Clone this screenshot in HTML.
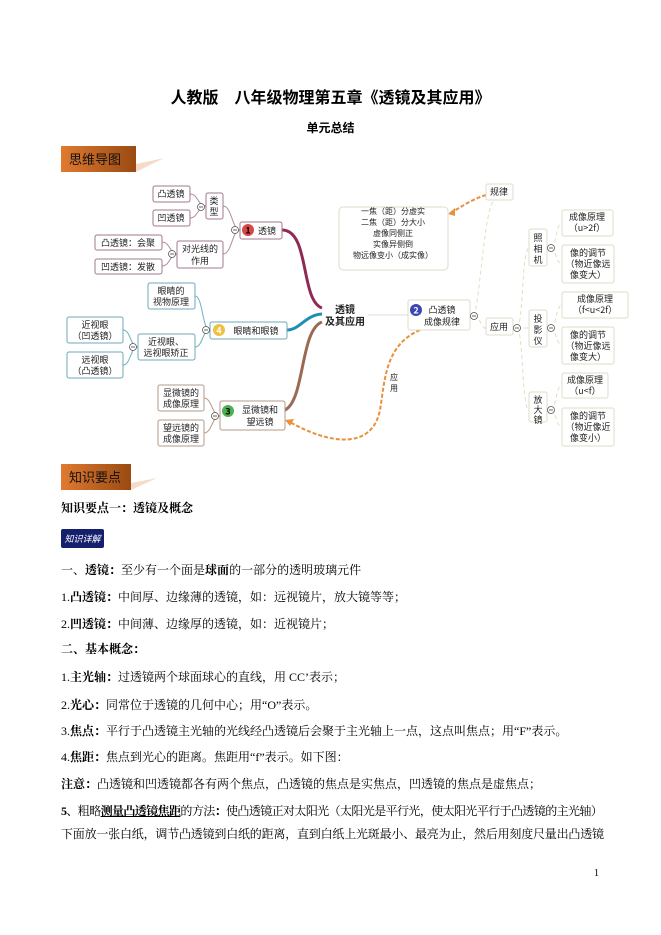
<!DOCTYPE html>
<html><head><meta charset="utf-8"><style>
body{margin:0;background:#fff;}
#p{position:relative;width:661px;height:935px;overflow:hidden;font-family:"Liberation Serif","Noto Serif CJK SC","Noto Sans CJK SC",serif;color:#000;}
.t{position:absolute;white-space:nowrap;font-size:12px;line-height:16px;}
.hdr{position:absolute;background:linear-gradient(90deg,#e07a30,#9a4a12);font-family:"Noto Sans CJK SC",sans-serif;font-size:13px;color:#111;}
svg text{font-family:"Noto Sans CJK SC",sans-serif;}
</style></head><body><div id="p">
<div class="t" style="left:0;width:661px;text-align:center;top:88px;font-size:16px;font-weight:bold;font-family:'Noto Sans CJK SC',sans-serif;">人教版　八年级物理第五章《透镜及其应用》</div>
<div class="t" style="left:0;width:661px;text-align:center;top:120px;font-size:12px;font-weight:bold;font-family:'Noto Sans CJK SC',sans-serif;">单元总结</div>

<div class="hdr" style="left:61px;top:146px;width:75px;height:26px;line-height:26px;text-indent:8px;">思维导图</div>
<svg style="position:absolute;left:136px;top:158px" width="30" height="14"><polygon points="0,14 0,6 28,0" fill="#f6dcc8"/></svg>
<div class="hdr" style="left:61px;top:464px;width:70px;height:26px;line-height:26px;text-indent:8px;">知识要点</div>
<svg style="position:absolute;left:131px;top:478px" width="30" height="12"><polygon points="0,12 0,5 26,0" fill="#f6dcc8"/></svg>

<svg style="position:absolute;left:0;top:0" width="661" height="470" font-size="9">
<g fill="none" stroke-width="1">
<path d="M190,194 C198,194 198,206 206,206 M190,218 C198,218 198,206 206,206" stroke="#b78aa3"/>
<path d="M223,206 C232,206 232,230 240,230 M223,254 C232,254 232,230 240,230" stroke="#b78aa3"/>
<path d="M162,242 C170,242 170,254 177,254 M162,266 C170,266 170,254 177,254" stroke="#b78aa3"/>
<path d="M282,230 C310,230 300,300 322,308" stroke="#8e2a55" stroke-width="3"/>
<path d="M195,296 C203,296 202,330 210,330 M195,347 C203,347 202,330 210,330" stroke="#6fb0c0"/>
<path d="M123,330 C131,330 130,347 138,347 M123,365 C131,365 130,347 138,347" stroke="#6fb0c0"/>
<path d="M287,330 C300,330 305,315 322,314" stroke="#1e8fb3" stroke-width="3"/>
<path d="M204,398 C212,398 212,416 220,416 M204,433 C212,433 212,416 220,416" stroke="#b39a88"/>
<path d="M285,410 C305,400 300,330 322,322" stroke="#9a6a55" stroke-width="3"/>
<path d="M368,315 L408,315" stroke="#ddd"/>
<path d="M474,316 C480,316 482,330 486,328 M474,316 C480,300 484,210 494,200" stroke="#e6dcc0" stroke-dasharray="4,3"/>
<path d="M517,328 C523,328 522,248 529,248 M517,328 L529,328 M517,328 C523,328 522,410 529,410" stroke="#e6dcc0" stroke-dasharray="4,3"/>
<path d="M551,248 C556,248 556,223 562,223 M551,248 C556,248 556,264 562,264 M551,328 C556,328 556,305 562,305 M551,328 C556,328 556,345 562,345 M551,410 C556,410 556,385 562,385 M551,410 C556,410 556,427 562,427" stroke="#e6dcc0" stroke-dasharray="4,3"/>
<path d="M486,195 C470,200 460,208 450,213" stroke="#e8903a" stroke-width="2" stroke-dasharray="4,2"/>
<path d="M420,330 C385,345 385,380 380,410 C372,450 330,445 288,421" stroke="#e8903a" stroke-width="2" stroke-dasharray="4,2"/>
</g>
<polygon points="448,214 455,208 455,216" fill="#e8903a"/>
<polygon points="285,420 294,419 290,426" fill="#e8903a"/>
<g fill="#fff" stroke-width="1">
<rect x="153" y="186" width="37" height="16" rx="2" stroke="#a07890"/>
<rect x="153" y="210" width="37" height="16" rx="2" stroke="#a07890"/>
<rect x="206" y="193" width="17" height="26" rx="2" stroke="#a07890"/>
<rect x="240" y="222" width="42" height="17" rx="2" stroke="#a07890"/>
<rect x="95" y="235" width="67" height="15" rx="2" stroke="#a07890"/>
<rect x="95" y="259" width="67" height="15" rx="2" stroke="#a07890"/>
<rect x="177" y="241" width="46" height="27" rx="2" stroke="#a07890"/>
<rect x="148" y="283" width="47" height="26" rx="2" stroke="#6fa8b8"/>
<rect x="210" y="322" width="77" height="17" rx="2" stroke="#6fa8b8"/>
<rect x="67" y="317" width="56" height="26" rx="2" stroke="#6fa8b8"/>
<rect x="67" y="352" width="56" height="26" rx="2" stroke="#6fa8b8"/>
<rect x="138" y="334" width="57" height="26" rx="2" stroke="#6fa8b8"/>
<rect x="158" y="385" width="46" height="26" rx="2" stroke="#b39a88"/>
<rect x="158" y="420" width="46" height="26" rx="2" stroke="#b39a88"/>
<rect x="220" y="401" width="65" height="29" rx="2" stroke="#b39a88"/>
<rect x="486" y="184" width="27" height="16" rx="2" stroke="#e0dcc8"/>
<rect x="339" y="207" width="109" height="63" rx="4" stroke="#e0dcc8"/>
<rect x="408" y="300" width="62" height="30" rx="2" stroke="#e0dcc8"/>
<rect x="486" y="318" width="27" height="17" rx="2" stroke="#e0dcc8"/>
<rect x="529" y="229" width="18" height="37" rx="2" stroke="#e0dcc8"/>
<rect x="529" y="310" width="18" height="37" rx="2" stroke="#e0dcc8"/>
<rect x="529" y="392" width="18" height="30" rx="2" stroke="#e0dcc8"/>
<rect x="562" y="210" width="51" height="26" rx="2" stroke="#e0dcc8"/>
<rect x="562" y="245" width="52" height="38" rx="2" stroke="#e0dcc8"/>
<rect x="562" y="292" width="66" height="26" rx="2" stroke="#e0dcc8"/>
<rect x="562" y="327" width="52" height="37" rx="2" stroke="#e0dcc8"/>
<rect x="562" y="373" width="46" height="25" rx="2" stroke="#e0dcc8"/>
<rect x="562" y="408" width="52" height="38" rx="2" stroke="#e0dcc8"/>
</g>
<g fill="#fff" stroke="#555" stroke-width="0.8">
<circle cx="201" cy="207" r="3.5"/><circle cx="235" cy="230" r="3.5"/><circle cx="172" cy="254" r="3.5"/>
<circle cx="206" cy="330" r="3.5"/><circle cx="133" cy="347" r="3.5"/><circle cx="215" cy="416" r="3.5"/>
<circle cx="474" cy="316" r="3.5"/><circle cx="517" cy="328" r="3.5"/>
<circle cx="551" cy="248" r="3.5"/><circle cx="551" cy="328" r="3.5"/><circle cx="551" cy="410" r="3.5"/>
</g>
<g stroke="#333" stroke-width="0.8">
<path d="M199,207h4M233,230h4M170,254h4M204,330h4M131,347h4M213,416h4M472,316h4M515,328h4M549,248h4M549,328h4M549,410h4"/>
</g>
<circle cx="248" cy="230" r="6" fill="#d84848"/><text x="248" y="233.5" font-size="9" font-weight="bold" text-anchor="middle">1</text>
<circle cx="219" cy="330" r="6" fill="#f0c040"/><text x="219" y="333.5" font-size="9" font-weight="bold" text-anchor="middle" fill="#fff">4</text>
<circle cx="228" cy="411" r="6" fill="#50b050"/><text x="228" y="414.5" font-size="9" font-weight="bold" text-anchor="middle">3</text>
<circle cx="416" cy="310" r="6" fill="#3a48b0"/><text x="416" y="313.5" font-size="9" font-weight="bold" text-anchor="middle" fill="#fff">2</text>
<g fill="#222" text-anchor="middle">
<text x="171" y="197">凸透镜</text><text x="171" y="221">凹透镜</text>
<text x="214" y="204">类</text><text x="214" y="215">型</text>
<text x="267" y="234">透镜</text>
<text x="128" y="246">凸透镜：会聚</text><text x="128" y="270">凹透镜：发散</text>
<text x="200" y="252">对光线的</text><text x="200" y="264">作用</text>
<text x="171" y="294">眼睛的</text><text x="171" y="305">视物原理</text>
<text x="256" y="334">眼睛和眼镜</text>
<text x="95" y="328">近视眼</text><text x="95" y="339">（凹透镜）</text>
<text x="95" y="363">远视眼</text><text x="95" y="374">（凸透镜）</text>
<text x="166" y="345">近视眼、</text><text x="166" y="356">远视眼矫正</text>
<text x="181" y="396">显微镜的</text><text x="181" y="407">成像原理</text>
<text x="181" y="431">望远镜的</text><text x="181" y="442">成像原理</text>
<text x="260" y="413">显微镜和</text><text x="260" y="425">望远镜</text>
<text x="345" y="313" font-weight="bold" font-size="10">透镜</text><text x="345" y="325" font-weight="bold" font-size="10">及其应用</text>
<text x="442" y="313">凸透镜</text><text x="442" y="325">成像规律</text>
<text x="499" y="195">规律</text><text x="499" y="330">应用</text>
<text x="393" y="214" font-size="8">一焦（距）分虚实</text>
<text x="393" y="225" font-size="8">二焦（距）分大小</text>
<text x="393" y="236" font-size="8">虚像同侧正</text>
<text x="393" y="247" font-size="8">实像异侧倒</text>
<text x="393" y="258" font-size="8">物远像变小（成实像）</text>
<text x="538" y="241">照</text><text x="538" y="252">相</text><text x="538" y="263">机</text>
<text x="538" y="322">投</text><text x="538" y="333">影</text><text x="538" y="344">仪</text>
<text x="538" y="403">放</text><text x="538" y="413">大</text><text x="538" y="423">镜</text>
<text x="587" y="220">成像原理</text><text x="587" y="231">（u&gt;2f）</text>
<text x="588" y="256">像的调节</text><text x="588" y="267">（物近像远</text><text x="588" y="278">像变大）</text>
<text x="595" y="302">成像原理</text><text x="595" y="313">（f&lt;u&lt;2f）</text>
<text x="588" y="338">像的调节</text><text x="588" y="349">（物近像远</text><text x="588" y="360">像变大）</text>
<text x="585" y="383">成像原理</text><text x="585" y="394">（u&lt;f）</text>
<text x="588" y="419">像的调节</text><text x="588" y="430">（物近像近</text><text x="588" y="441">像变小）</text>
<text x="394" y="380" font-size="8">应</text><text x="394" y="391" font-size="8">用</text>
</g>
</svg>

<div class="t" style="left:61px;top:500px;font-weight:bold;">知识要点一：透镜及概念</div>
<div style="position:absolute;left:61px;top:529px;width:43px;height:19px;background:#14206e;border-radius:2px;color:#fff;font-size:9px;line-height:19px;text-align:center;font-family:'Noto Sans CJK SC',sans-serif;font-style:italic;">知识详解</div>
<div class="t" style="left:61px;top:562px;">一、<b>透镜：</b>至少有一个面是<b>球面</b>的一部分的透明玻璃元件</div>
<div class="t" style="left:61px;top:589px;">1.<b>凸透镜：</b>中间厚、边缘薄的透镜，如：远视镜片，放大镜等等；</div>
<div class="t" style="left:61px;top:616px;">2.<b>凹透镜：</b>中间薄、边缘厚的透镜，如：近视镜片；</div>
<div class="t" style="left:61px;top:641px;font-weight:bold;">二、基本概念：</div>
<div class="t" style="left:61px;top:669px;">1.<b>主光轴：</b>过透镜两个球面球心的直线，用 CC’表示；</div>
<div class="t" style="left:61px;top:697px;">2.<b>光心：</b>同常位于透镜的几何中心；用“O”表示。</div>
<div class="t" style="left:61px;top:723px;">3.<b>焦点：</b>平行于凸透镜主光轴的光线经凸透镜后会聚于主光轴上一点，这点叫焦点；用“F”表示。</div>
<div class="t" style="left:61px;top:749px;">4.<b>焦距：</b>焦点到光心的距离。焦距用“f”表示。如下图：</div>
<div class="t" style="left:61px;top:776px;"><b>注意：</b>凸透镜和凹透镜都各有两个焦点，凸透镜的焦点是实焦点，凹透镜的焦点是虚焦点；</div>
<div class="t" style="left:61px;top:803px;letter-spacing:-0.6px;"><b>5</b>、粗略<b><u>测量凸透镜焦距</u></b>的方法<b>：</b>使凸透镜正对太阳光（太阳光是平行光，使太阳光平行于凸透镜的主光轴）</div>
<div class="t" style="left:61px;top:826px;letter-spacing:-0.2px;">下面放一张白纸，调节凸透镜到白纸的距离，直到白纸上光斑最小、最亮为止，然后用刻度尺量出凸透镜</div>
<div class="t" style="left:594px;top:866px;font-size:10px;">1</div>
</div></body></html>
